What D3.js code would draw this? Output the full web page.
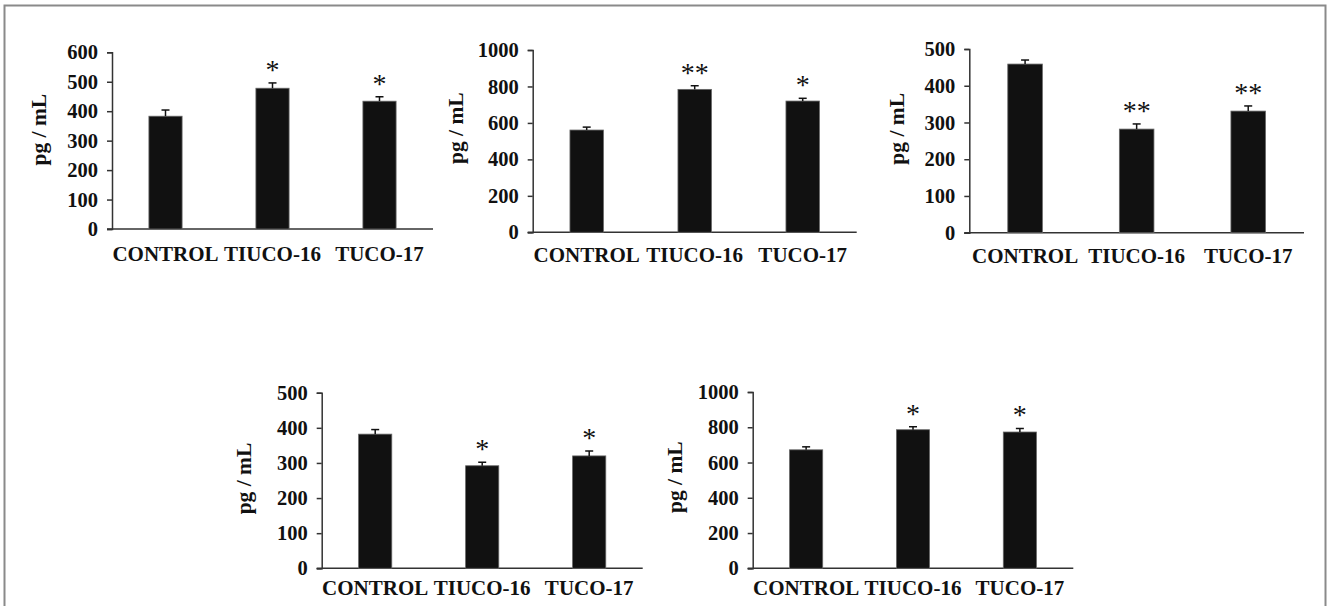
<!DOCTYPE html>
<html>
<head>
<meta charset="utf-8">
<script src="https://cdn.jsdelivr.net/npm/d3@7"></script>
<style>
  html, body { margin: 0; padding: 0; background: #fff; }
  svg { display: block; }
</style>
</head>
<body>
<svg id="chart" width="1328" height="606"></svg>
<script>
// ---- data ----
const categories = ["CONTROL", "TIUCO-16", "TUCO-17"];
const panel1Values = [383, 478, 434];
const panel1Errors = [21, 18, 15];
const panel1Marks  = ["", "*", "*"];
const panel1Ticks  = [0, 100, 200, 300, 400, 500, 600];

const panel2Values = [561, 784, 720];
const panel2Errors = [16, 20, 15];
const panel2Marks  = ["", "**", "*"];
const panel2Ticks  = [0, 200, 400, 600, 800, 1000];

const panel3Values = [459, 282, 331];
const panel3Errors = [11, 14, 14];
const panel3Marks  = ["", "**", "**"];
const panel3Ticks  = [0, 100, 200, 300, 400, 500];

const panel4Values = [382, 292, 320];
const panel4Errors = [13, 10, 14];
const panel4Marks  = ["", "*", "*"];
const panel4Ticks  = [0, 100, 200, 300, 400, 500];

const panel5Values = [672, 786, 773];
const panel5Errors = [17, 17, 20];
const panel5Marks  = ["", "*", "*"];
const panel5Ticks  = [0, 200, 400, 600, 800, 1000];

const yTitle = "pg / mL";

// ---- layout (positions only) ----
const layout = [
  { x0: 112,   x1: 433,    yTop: 52.3,  y0: 229,   titleX: 38,  titleDy: -11, labelDy: 32 },
  { x0: 532.7, x1: 856.7,  yTop: 50,    y0: 232.3, titleX: 455, titleDy: -13, labelDy: 30 },
  { x0: 969.3, x1: 1304,   yTop: 49,    y0: 232.7, titleX: 896, titleDy: -12, labelDy: 30 },
  { x0: 321.7, x1: 642.7,  yTop: 392.7, y0: 568.3, titleX: 243, titleDy: -2,  labelDy: 27 },
  { x0: 752.7, x1: 1073.3, yTop: 392,   y0: 568.3, titleX: 674, titleDy: -3,  labelDy: 27 }
];
const panels = [
  { values: panel1Values, errors: panel1Errors, marks: panel1Marks, ticks: panel1Ticks },
  { values: panel2Values, errors: panel2Errors, marks: panel2Marks, ticks: panel2Ticks },
  { values: panel3Values, errors: panel3Errors, marks: panel3Marks, ticks: panel3Ticks },
  { values: panel4Values, errors: panel4Errors, marks: panel4Marks, ticks: panel4Ticks },
  { values: panel5Values, errors: panel5Errors, marks: panel5Marks, ticks: panel5Ticks }
];

const FONT = "'Liberation Serif', 'Times New Roman', serif";
const svg = d3.select("#chart");

// outer frame
svg.append("rect")
  .attr("x", 4.5).attr("y", 5.5)
  .attr("width", 1321).attr("height", 640)
  .attr("fill", "none").attr("stroke", "#8a8a8a").attr("stroke-width", 2);

panels.forEach((p, i) => {
  const L = layout[i];
  const g = svg.append("g");
  const yMax = p.ticks[p.ticks.length - 1];

  const x = d3.scaleBand().domain(categories).range([L.x0, L.x1])
    .paddingInner(0.69).paddingOuter(0.345);
  const y = d3.scaleLinear().domain([0, yMax]).range([L.y0, L.yTop]);

  // y axis
  const yAxis = g.append("g").attr("transform", `translate(${L.x0},0)`)
    .call(d3.axisLeft(y).tickValues(p.ticks).tickFormat(d3.format("d"))
      .tickSize(5).tickPadding(9));
  yAxis.select(".domain").attr("stroke", "#333").attr("stroke-width", 1.5);
  yAxis.selectAll(".tick line").attr("stroke", "#333").attr("stroke-width", 1.5);
  yAxis.selectAll(".tick text")
    .attr("font-family", FONT).attr("font-weight", "bold")
    .attr("font-size", 20.5).attr("fill", "#111");

  // x axis
  const xAxis = g.append("g").attr("transform", `translate(0,${L.y0})`)
    .call(d3.axisBottom(x).tickSize(0).tickPadding(0));
  xAxis.select(".domain").attr("d", `M${L.x0 - 5},0H${L.x1}`)
    .attr("stroke", "#333").attr("stroke-width", 1.5);
  xAxis.selectAll(".tick text")
    .attr("font-family", FONT).attr("font-weight", "bold")
    .attr("font-size", 21).attr("fill", "#111")
    .attr("dy", null).attr("y", L.labelDy);

  // bars
  g.selectAll("rect.bar").data(p.values).join("rect")
    .attr("class", "bar")
    .attr("x", (d, j) => x(categories[j]))
    .attr("width", x.bandwidth())
    .attr("y", d => y(d))
    .attr("height", d => L.y0 - y(d))
    .attr("fill", "#111").attr("stroke", "#666").attr("stroke-width", 0.8);

  // error bars (upper)
  p.values.forEach((v, j) => {
    const cx = x(categories[j]) + x.bandwidth() / 2;
    const top = y(v + p.errors[j]);
    g.append("line").attr("x1", cx).attr("x2", cx)
      .attr("y1", y(v)).attr("y2", top)
      .attr("stroke", "#111").attr("stroke-width", 1.5);
    g.append("line").attr("x1", cx - 4).attr("x2", cx + 4)
      .attr("y1", top).attr("y2", top)
      .attr("stroke", "#111").attr("stroke-width", 1.5);
    if (p.marks[j]) {
      g.append("text").attr("x", cx).attr("y", top - 4)
        .attr("text-anchor", "middle")
        .attr("font-family", FONT).attr("font-size", 28)
        .attr("fill", "#111").text(p.marks[j]);
    }
  });

  // y title
  const ty = (L.yTop + L.y0) / 2 + L.titleDy;
  g.append("text")
    .attr("transform", `translate(${L.titleX},${ty}) rotate(-90)`)
    .attr("text-anchor", "middle").attr("dy", "0.35em")
    .attr("font-family", FONT).attr("font-weight", "bold")
    .attr("font-size", 21.5).attr("fill", "#111")
    .text(yTitle);
});
</script>
</body>
</html>
